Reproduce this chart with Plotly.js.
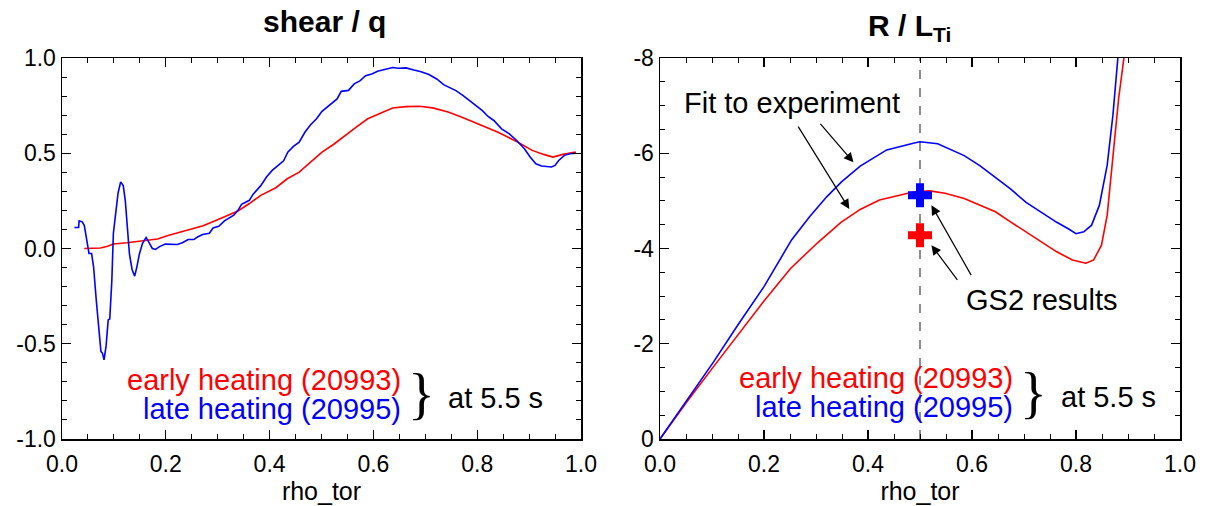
<!DOCTYPE html>
<html>
<head>
<meta charset="utf-8">
<script src="https://cdn.plot.ly/plotly-3.0.1.min.js"></script>
<style>html,body{margin:0;padding:0;background:#fff;}#chart{width:1214px;height:506px;}</style>
</head>
<body>
<div id="chart"></div>
<script>
// ---- Left panel: shear / q ----
const lateShearX = [0.024,0.032,0.033,0.039,0.043,0.047,0.052,0.057,0.061,0.066,0.071,0.075,0.078,0.081,0.085,0.089,0.092,0.096,0.099,0.103,0.108,0.113,0.118,0.122,0.125,0.127,0.130,0.135,0.140,0.144,0.149,0.155,0.162,0.167,0.174,0.180,0.188,0.199,0.210,0.222,0.232,0.243,0.254,0.261,0.271,0.284,0.291,0.302,0.313,0.331,0.339,0.346,0.361,0.368,0.383,0.394,0.405,0.416,0.427,0.435,0.446,0.457,0.468,0.479,0.490,0.501,0.519,0.530,0.538,0.552,0.563,0.574,0.585,0.597,0.608,0.619,0.637,0.648,0.663,0.678,0.692,0.707,0.722,0.736,0.747,0.759,0.773,0.792,0.810,0.821,0.832,0.847,0.862,0.876,0.891,0.902,0.913,0.924,0.943,0.950,0.957,0.968,0.979,0.990];
const lateShearY = [0.11,0.11,0.145,0.14,0.12,0.06,-0.026,-0.026,-0.10,-0.27,-0.41,-0.54,-0.55,-0.585,-0.51,-0.375,-0.37,-0.17,0.08,0.18,0.29,0.35,0.33,0.25,0.15,0.10,-0.03,-0.11,-0.145,-0.10,-0.03,0.026,0.058,0.035,0.0,-0.005,0.01,0.023,0.021,0.021,0.03,0.047,0.047,0.06,0.073,0.08,0.108,0.117,0.145,0.175,0.20,0.232,0.253,0.284,0.33,0.375,0.41,0.436,0.46,0.506,0.536,0.558,0.61,0.65,0.68,0.72,0.76,0.785,0.825,0.83,0.864,0.88,0.907,0.916,0.93,0.939,0.95,0.946,0.948,0.937,0.928,0.913,0.89,0.859,0.843,0.829,0.803,0.763,0.724,0.693,0.672,0.628,0.602,0.567,0.524,0.48,0.445,0.433,0.428,0.436,0.462,0.489,0.497,0.50];
const earlyShearX = [0.043,0.074,0.088,0.099,0.125,0.155,0.184,0.206,0.243,0.272,0.302,0.339,0.361,0.383,0.412,0.434,0.457,0.479,0.501,0.523,0.545,0.567,0.589,0.611,0.637,0.663,0.689,0.714,0.744,0.773,0.810,0.839,0.876,0.906,0.928,0.946,0.965,0.990];
const earlyShearY = [0.0,0.003,0.012,0.024,0.03,0.04,0.05,0.07,0.096,0.119,0.154,0.197,0.236,0.279,0.319,0.366,0.401,0.454,0.506,0.546,0.593,0.637,0.681,0.707,0.738,0.745,0.747,0.738,0.716,0.686,0.646,0.611,0.562,0.515,0.494,0.48,0.494,0.506];

// ---- Right panel: R / L_Ti ----
const lateRLTX = [0,0.051,0.103,0.15,0.2,0.253,0.288,0.321,0.349,0.385,0.436,0.487,0.5,0.534,0.556,0.585,0.615,0.645,0.674,0.704,0.734,0.763,0.786,0.8,0.815,0.83,0.845,0.86,0.871,0.882,0.89];
const lateRLTY = [0,-0.8,-1.62,-2.4,-3.2,-4.18,-4.67,-5.09,-5.40,-5.73,-6.07,-6.21,-6.24,-6.2,-6.09,-5.95,-5.74,-5.5,-5.25,-4.97,-4.76,-4.55,-4.41,-4.31,-4.35,-4.49,-4.91,-5.75,-6.8,-7.99,-9.2];
const earlyRLTX = [0,0.051,0.103,0.15,0.2,0.251,0.303,0.348,0.385,0.422,0.459,0.489,0.519,0.548,0.585,0.615,0.645,0.674,0.704,0.734,0.763,0.793,0.819,0.834,0.849,0.86,0.871,0.882,0.892,0.9];
const earlyRLTY = [0,-0.77,-1.52,-2.2,-2.9,-3.58,-4.12,-4.55,-4.82,-5.02,-5.12,-5.19,-5.21,-5.16,-5.05,-4.91,-4.77,-4.56,-4.35,-4.14,-3.93,-3.76,-3.69,-3.76,-4.07,-4.7,-5.89,-7.15,-7.99,-9.0];

// GS2 results at rho_tor = 0.5
const gs2X = [0.5, 0.5];
const gs2Y = [-5.12, -4.28];
const gs2Colors = ['#0000ff', '#ff0000'];

// Tick labels
const xTickVals = [0, 0.2, 0.4, 0.6, 0.8, 1.0];
const xTickText = ['0.0', '0.2', '0.4', '0.6', '0.8', '1.0'];
const shearTickVals = [-1, -0.5, 0, 0.5, 1];
const shearTickText = ['-1.0', '-0.5', '0.0', '0.5', '1.0'];
const rltTickVals = [0, -2, -4, -6, -8];
const rltTickText = ['0', '-2', '-4', '-6', '-8'];

const RED = '#ff0000', BLUE = '#0000ff';
const FONT = 'Liberation Sans, Arial, Helvetica, sans-serif';
const TXT = 29;

const traces = [
  {x: earlyShearX, y: earlyShearY, xaxis: 'x', yaxis: 'y', mode: 'lines', line: {color: RED, width: 1.6}},
  {x: lateShearX, y: lateShearY, xaxis: 'x', yaxis: 'y', mode: 'lines', line: {color: BLUE, width: 1.6}},
  {x: earlyRLTX, y: earlyRLTY, xaxis: 'x2', yaxis: 'y2', mode: 'lines', line: {color: RED, width: 1.6}},
  {x: lateRLTX, y: lateRLTY, xaxis: 'x2', yaxis: 'y2', mode: 'lines', line: {color: BLUE, width: 1.6}},
  {x: gs2X, y: gs2Y, xaxis: 'x2', yaxis: 'y2', mode: 'markers', cliponaxis: false,
   marker: {symbol: 'cross', size: 20, color: gs2Colors, line: {width: 0}}}
];

function axisBase(extra) {
  return Object.assign({
    showline: true, linecolor: 'black', linewidth: 1.5, mirror: 'allticks',
    ticks: 'inside', ticklen: 9, tickwidth: 1.2, tickcolor: 'black',
    showgrid: false, zeroline: false, fixedrange: true,
    tickfont: {family: FONT, size: 23, color: 'black'},
    tickmode: 'array'
  }, extra);
}
const minorX = {ticks: 'inside', ticklen: 5, tickwidth: 1, tickcolor: 'black', showgrid: false, tickmode: 'linear', tick0: 0, dtick: 0.05};

const yBot = 1 - 439 / 506, yTop = 1 - 58 / 506;

function txt(xref, yref, x, y, text, color, size, xanchor, family) {
  return {xref: xref, yref: yref, x: x, y: y, text: text, showarrow: false,
    xanchor: xanchor || 'center', yanchor: 'middle',
    font: {family: family || FONT, size: size || TXT, color: color || 'black'}};
}
function arrow(x, y, ax, ay) {
  return {xref: 'x2', yref: 'y2', axref: 'x2', ayref: 'y2', x: x, y: y, ax: ax, ay: ay, text: '',
    showarrow: true, arrowhead: 2, arrowsize: 1.6, arrowwidth: 1.2, arrowcolor: 'black'};
}

const layout = {
  width: 1214, height: 506,
  margin: {l: 0, r: 0, t: 0, b: 0},
  paper_bgcolor: 'white', plot_bgcolor: 'white',
  showlegend: false,
  font: {family: FONT, size: 22, color: 'black'},
  xaxis: axisBase({domain: [62 / 1214, 581 / 1214], range: [0, 1], anchor: 'y',
    tickvals: xTickVals, ticktext: xTickText, minor: minorX, ticklabelstandoff: 4,
    title: {text: 'rho_tor', font: {family: FONT, size: 25}, standoff: 4}}),
  yaxis: axisBase({domain: [yBot, yTop], range: [-1, 1], anchor: 'x',
    tickvals: shearTickVals, ticktext: shearTickText,
    minor: {ticks: 'inside', ticklen: 5, tickwidth: 1, tickcolor: 'black', showgrid: false, tickmode: 'linear', tick0: 0, dtick: 0.1}}),
  xaxis2: axisBase({domain: [660 / 1214, 1180 / 1214], range: [0, 1], anchor: 'y2',
    tickvals: xTickVals, ticktext: xTickText, minor: minorX, ticklabelstandoff: 4,
    title: {text: 'rho_tor', font: {family: FONT, size: 25}, standoff: 4}}),
  yaxis2: axisBase({domain: [yBot, yTop], range: [0, -8], anchor: 'x2',
    tickvals: rltTickVals, ticktext: rltTickText,
    minor: {ticks: 'inside', ticklen: 5, tickwidth: 1, tickcolor: 'black', showgrid: false, tickmode: 'linear', tick0: 0, dtick: 0.5}}),
  shapes: [
    {type: 'line', xref: 'x2', yref: 'y2', x0: 0.5, x1: 0.5, y0: 0, y1: -8,
     line: {color: '#444444', width: 1.2, dash: 'dash'}, layer: 'below'}
  ],
  annotations: [
    txt('paper', 'paper', 324 / 1214, 1 - 22 / 506, '<b>shear / q</b>', 'black', 30),
    txt('paper', 'paper', 909 / 1214, 1 - 27 / 506, '<b>R / L<sub>Ti</sub></b>', 'black', 30),
    // left legend
    txt('x', 'y', 0.657, -0.69, 'early heating (20993)', RED, TXT, 'right'),
    txt('x', 'y', 0.657, -0.843, 'late heating (20995)', BLUE, TXT, 'right'),
    txt('x', 'y', 0.662, -0.766, '}', 'black', 56, 'left', 'Liberation Serif, serif'),
    txt('x', 'y', 0.74, -0.785, 'at 5.5 s', 'black', TXT, 'left'),
    // right legend
    txt('x2', 'y2', 0.683, -1.28, 'early heating (20993)', RED, TXT, 'right'),
    txt('x2', 'y2', 0.683, -0.68, 'late heating (20995)', BLUE, TXT, 'right'),
    txt('x2', 'y2', 0.688, -0.97, '}', 'black', 56, 'left', 'Liberation Serif, serif'),
    txt('x2', 'y2', 0.767, -0.88, 'at 5.5 s', 'black', TXT, 'left'),
    // labels
    txt('x2', 'y2', 0.254, -7.06, 'Fit to experiment'),
    txt('x2', 'y2', 0.735, -2.92, 'GS2 results'),
    // arrows
    arrow(0.372, -5.81, 0.306, -6.65),
    arrow(0.364, -4.83, 0.264, -6.59),
    arrow(0.522, -4.91, 0.6, -3.41),
    arrow(0.522, -4.07, 0.574, -3.31)
  ]
};

Plotly.newPlot('chart', traces, layout, {staticPlot: true, displayModeBar: false});
</script>
</body>
</html>
